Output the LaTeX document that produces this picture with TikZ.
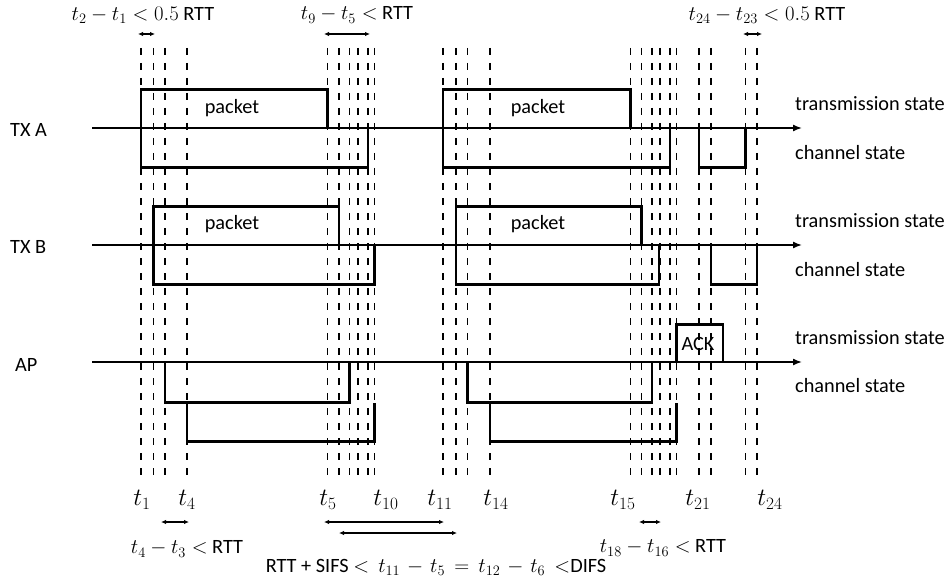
\documentclass[tikz,border=0pt]{standalone}
\usepackage{fontspec}
\setmainfont{Carlito}
\usetikzlibrary{arrows.meta}
\newcommand{\mthA}[1]{{\fontsize{20}{23}\selectfont$#1$}}
\newcommand{\mthT}[1]{{\fontsize{23}{26}\selectfont$#1$}}
\newcommand{\mthW}[1]{{\fontsize{22}{25}\selectfont\medmuskip=6mu plus 2mu\thickmuskip=8mu plus 3mu$#1$}}
\begin{document}
\begin{tikzpicture}[x=1pt,y=-1pt,
  lbl/.style={font=\fontsize{20.3}{23}\selectfont, inner sep=0pt},
  lblr/.style={lbl, anchor=west},
  dashline/.style={line width=1.6pt, dash pattern=on 7pt off 8pt},
  axisline/.style={line width=1.5pt, -{Latex[length=9pt,width=7pt]}},
  sig/.style={line width=2.2pt, line join=miter},
  dim/.style={line width=1.5pt, {Latex[length=5pt,width=4.5pt]}-{Latex[length=5pt,width=4.5pt]}}
]
\useasboundingbox (0,0) rectangle (949,580);

% time lines
\foreach \i/\x in {1/140.7,2/153.5,3/165,4/187,5/327.5,6/339,7/349.5,8/358,9/368,10/374.5,
                   11/443,12/456,13/467.5,14/490,15/630.5,16/641.5,17/652,18/660,19/670,20/676.5,
                   21/699,22/711,23/745.5,24/757}{
  \coordinate (top\i) at (\x,48);
  \coordinate (bot\i) at (\x,482);
  \draw[dashline] (top\i) -- (bot\i);
}

% axes
\coordinate (aA) at (92,128);  \coordinate (eA) at (802,128);
\coordinate (aB) at (92,245);  \coordinate (eB) at (802,245);
\coordinate (aP) at (92,362);  \coordinate (eP) at (802,362);
\draw[axisline] (aA) -- (eA);
\draw[axisline] (aB) -- (eB);
\draw[axisline] (aP) -- (eP);

% TX A
\draw[sig] (140.7,128) -- (140.7,89.5) -- (327.5,89.5) -- (327.5,128);
\draw[sig] (140.7,128) -- (140.7,167.5) -- (368,167.5) -- (368,128);
\draw[sig] (443,128) -- (443,89.5) -- (630.5,89.5) -- (630.5,128);
\draw[sig] (443,128) -- (443,167.5) -- (670,167.5) -- (670,128);
\draw[sig] (699,128) -- (699,167.5) -- (745.5,167.5) -- (745.5,128);

% TX B
\draw[sig] (153.5,245) -- (153.5,206.5) -- (339,206.5) -- (339,245);
\draw[sig] (153.5,245) -- (153.5,284.5) -- (374.5,284.5) -- (374.5,245);
\draw[sig] (456,245) -- (456,206.5) -- (641.5,206.5) -- (641.5,245);
\draw[sig] (456,245) -- (456,284.5) -- (659,284.5) -- (659,245);
\draw[sig] (711,245) -- (711,284.5) -- (757,284.5) -- (757,245);

% AP
\draw[sig] (165,362) -- (165,402.5) -- (349.5,402.5) -- (349.5,362);
\draw[sig] (187,402.5) -- (187,441.5) -- (374.5,441.5) -- (374.5,402.5);
\draw[sig] (467.5,362) -- (467.5,402.5) -- (652,402.5) -- (652,362);
\draw[sig] (490,402.5) -- (490,441.5) -- (676.5,441.5) -- (676.5,402.5);
\draw[sig] (676.5,362) -- (676.5,324.5) -- (723,324.5) -- (723,362);

% texts in boxes
\node[lbl] (pA1) at (232,108) {packet};
\node[lbl] (pA2) at (538,108) {packet};
\node[lbl] (pB1) at (232,224) {packet};
\node[lbl] (pB2) at (538,224) {packet};
\node[lbl] (ack) at (698,344) {ACK};

% left labels
\node[lbl, anchor=west] (lA) at (10,130) {TX A};
\node[lbl, anchor=west] (lB) at (10,247) {TX B};
\node[lbl, anchor=west] (lP) at (15,365) {AP};

% right labels
\node[lblr] (tsA) at (795,104) {transmission state};
\node[lblr] (csA) at (795,153) {channel state};
\node[lblr] (tsB) at (795,221) {transmission state};
\node[lblr] (csB) at (795,270) {channel state};
\node[lblr] (tsP) at (795,338) {transmission state};
\node[lblr] (csP) at (795,386) {channel state};

% top dimension labels
\node[lbl] (d1) at (143,15) {\mthA{t_2-t_1<0.5} RTT};
\node[lbl] (d2) at (357,15) {\mthA{t_9-t_5<} RTT};
\node[lbl] (d3) at (767,15) {\mthA{t_{24}-t_{23}<0.5} RTT};
\coordinate (d1a) at (138,34); \coordinate (d1b) at (155,34);
\coordinate (d2a) at (324,34); \coordinate (d2b) at (370,34);
\coordinate (d3a) at (743,34); \coordinate (d3b) at (762,34);
\draw[dim] (d1a) -- (d1b);
\draw[dim] (d2a) -- (d2b);
\draw[dim] (d3a) -- (d3b);

% bottom time labels
\node[lbl] (n1) at (142,500) {\mthT{t_1}};
\node[lbl] (n4) at (187,500) {\mthT{t_4}};
\node[lbl] (n5) at (328,500) {\mthT{t_5}};
\node[lbl] (n10) at (386,500) {\mthT{t_{10}}};
\node[lbl] (n11) at (440,500) {\mthT{t_{11}}};
\node[lbl] (n14) at (496,500) {\mthT{t_{14}}};
\node[lbl] (n15) at (623,500) {\mthT{t_{15}}};
\node[lbl] (n21) at (698,500) {\mthT{t_{21}}};
\node[lbl] (n24) at (770,500) {\mthT{t_{24}}};

% bottom dimensions
\coordinate (e1a) at (161,522); \coordinate (e1b) at (189,522);
\coordinate (e2a) at (324,522); \coordinate (e2b) at (444,522);
\coordinate (e3a) at (339,533); \coordinate (e3b) at (457,533);
\coordinate (e4a) at (639,522); \coordinate (e4b) at (661,522);
\draw[dim] (e1a) -- (e1b);
\draw[dim] (e2a) -- (e2b);
\draw[dim] (e3a) -- (e3b);
\draw[dim] (e4a) -- (e4b);
\node[lbl] (m1) at (187,549) {\mthA{t_4-t_3<} RTT};
\node[lbl] (m2) at (436,567) {RTT + SIFS \mthW{<t_{11}-t_5=t_{12}-t_6<}DIFS};
\node[lbl] (m3) at (663,548) {\mthA{t_{18}-t_{16}<} RTT};
\end{tikzpicture}
\end{document}
